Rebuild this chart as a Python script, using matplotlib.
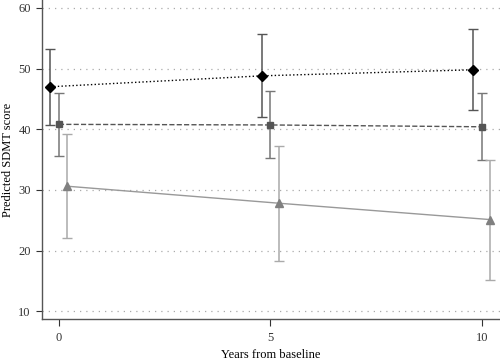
import matplotlib.pyplot as plt

# Valores
years = [0, 5, 10]
offset = 0.2

top_mean = [47.0, 48.8, 49.8]
top_low = [40.7, 42.0, 43.2]
top_high = [53.3, 55.7, 56.5]

mid_mean = [40.8, 40.7, 40.4]
mid_low = [35.6, 35.3, 34.9]
mid_high = [46.0, 46.3, 45.9]

bot_mean = [30.6, 27.8, 25.1]
bot_low = [22.0, 18.2, 15.2]
bot_high = [39.2, 37.3, 34.9]

yticks = [10, 20, 30, 40, 50, 60]

plt.rcParams['font.family'] = ['Liberation Serif', 'DejaVu Serif']

fig = plt.figure(figsize=(5, 3.63), dpi=100)
ax = fig.add_axes([0.084, 0.121, 0.916, 0.879])

for y in yticks:
    ax.axhline(y, color='#aaaaaa', linestyle=(0, (1, 4)), linewidth=0.9, zorder=0)

series = [
    (top_mean, top_low, top_high, -offset, 'D', 'black', '#555555', ':', 'black', 5),
    (mid_mean, mid_low, mid_high, 0.0, 's', '#555555', '#777777', '--', '#555555', 5),
    (bot_mean, bot_low, bot_high, offset, '^', '#808080', '#aaaaaa', '-', '#999999', 6),
]

for mean, low, high, off, mk, mcol, ecol, ls, lcol, ms in series:
    xs = [x + off for x in years]
    err = [[m - l for m, l in zip(mean, low)], [h - m for m, h in zip(mean, high)]]
    ax.errorbar(xs, mean, yerr=err, fmt='none', ecolor=ecol, elinewidth=1.1,
                capsize=3.5, capthick=1.0, zorder=2)
    ax.plot(xs, mean, linestyle=ls, color=lcol, linewidth=1.0, zorder=3)
    ax.plot(xs, mean, linestyle='none', marker=mk, color=mcol, markersize=ms, zorder=4)

ax.set_xlim(-0.4, 10.43)
ax.set_ylim(8.7, 61.3)
ax.set_xticks(years)
ax.set_yticks(yticks)
ax.tick_params(axis='both', labelsize=9, colors='#333333', length=5, width=0.8)
ax.tick_params(axis='y', length=4, pad=4)
ax.tick_params(axis='x', pad=4)
for s in ['top', 'right']:
    ax.spines[s].set_visible(False)
for s in ['left', 'bottom']:
    ax.spines[s].set_color('#555555')
    ax.spines[s].set_linewidth(1.0)

ax.set_xlabel('Years from baseline', fontsize=9)
ax.set_ylabel('Predicted SDMT score', fontsize=9)
ax.xaxis.set_label_coords(0.499, -0.095)
ax.yaxis.set_label_coords(-0.062, 0.5)

fig.savefig('out.png', dpi=100)
